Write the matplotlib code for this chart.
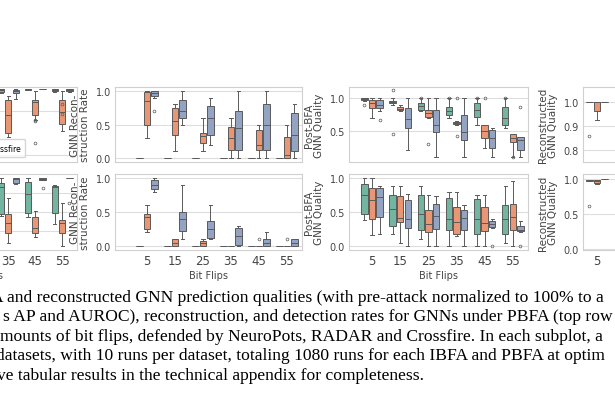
import colorsys
import matplotlib
matplotlib.use("Agg")
import matplotlib.pyplot as plt
from matplotlib.colors import to_rgb
from matplotlib.patches import Patch

W, H = 615, 410
bit_flips = ["5", "15", "25", "35", "45", "55"]
methods = ["NeuroPots", "RADAR", "Crossfire"]
base_colors = ["#66c2a5", "#fc8d62", "#8da0cb"]

# box stats per method: (whislo, q1, med, q3, whishi, [fliers]); None = not drawn
# left panel, only 35/45/55 are inside the crop
p1_top = {
    "NeuroPots": [None, None, None, (0.98, 0.985, 0.995, 1.0, 1.0, []), (0.995, 0.997, 1.0, 1.0, 1.0, []), (0.985, 0.99, 0.995, 1.0, 1.0, [])],
    "RADAR": [None, None, None, (0.78, 0.80, 0.88, 0.95, 0.97, []), (0.86, 0.88, 0.94, 0.95, 0.99, [0.855, 0.86, 0.755]), (0.81, 0.84, 0.895, 0.95, 0.99, [0.886, 0.93])],
    "Crossfire": [None, None, None, (0.955, 0.98, 0.99, 0.995, 1.0, []), (1.0, 1.0, 1.0, 1.0, 1.0, []), (0.985, 0.99, 0.995, 1.0, 1.0, [])],
}
p1_bot = {
    "NeuroPots": [None, None, None, (0.45, 0.47, 0.83, 0.88, 0.95, []), (0.44, 0.49, 0.74, 0.90, 0.95, []), (0.34, 0.49, 0.83, 0.84, 0.85, [])],
    "RADAR": [None, None, None, (0.09, 0.22, 0.36, 0.47, 0.69, []), (0.17, 0.22, 0.29, 0.44, 0.51, []), (0.05, 0.23, 0.36, 0.39, 0.62, [])],
    "Crossfire": [None, None, None, (0.87, 0.88, 0.93, 0.95, 0.95, []), (0.92, 0.92, 0.94, 0.95, 0.95, [0.82]), (0.95, 0.95, 0.95, 0.95, 0.95, [0.62])],
}
p2_top = {
    "NeuroPots": [(0, 0, 0, 0, 0, [])] * 6,
    "RADAR": [(0.3, 0.5, 0.85, 0.98, 1.0, []), (0.1, 0.35, 0.55, 0.75, 0.8, []), (0.1, 0.22, 0.33, 0.38, 0.6, []),
              (0, 0.12, 0.3, 0.47, 0.6, []), (0, 0.12, 0.2, 0.42, 0.5, []), (0, 0, 0.05, 0.32, 0.5, [])],
    "Crossfire": [(0.9, 0.93, 0.97, 1.0, 1.0, [0.7]), (0.5, 0.6, 0.7, 0.87, 1.0, []), (0.2, 0.35, 0.6, 0.77, 0.9, []),
                  (0, 0.12, 0.45, 0.7, 1.0, []), (0, 0.12, 0.5, 0.8, 1.0, []), (0, 0.1, 0.35, 0.67, 0.8, [])],
}
p2_bot = {
    "NeuroPots": [(0, 0, 0, 0, 0, [])] * 6,
    "RADAR": [(0.2, 0.25, 0.42, 0.47, 0.6, []), (0, 0, 0.05, 0.1, 0.1, []), (0, 0, 0.05, 0.08, 0.1, []),
              (0, 0, 0, 0, 0, []), (0, 0, 0, 0, 0, [0.1]), (0, 0, 0, 0, 0, [0.1])],
    "Crossfire": [(0.8, 0.84, 0.9, 0.97, 1.0, []), (0.1, 0.22, 0.4, 0.5, 0.9, []), (0.1, 0.12, 0.25, 0.37, 0.6, []),
                  (0, 0.02, 0.15, 0.27, 0.3, []), (0, 0, 0.05, 0.1, 0.2, []), (0, 0, 0.05, 0.1, 0.1, [])],
}
p3_top = {
    "NeuroPots": [(0.95, 0.97, 0.99, 1.0, 1.0, [0.9]), (0.9, 0.92, 0.94, 0.96, 1.0, [1.12, 0.45]), (0.8, 0.82, 0.88, 0.93, 1.0, [1.0]),
                  (0.7, 0.75, 0.8, 0.87, 1.0, [1.0]), (0.6, 0.72, 0.82, 0.92, 1.0, [1.0]), (0.55, 0.6, 0.7, 0.87, 1.0, [1.0])],
    "RADAR": [(0.7, 0.85, 0.92, 0.98, 1.0, []), (0.8, 0.82, 0.84, 0.86, 0.9, []), (0.7, 0.72, 0.77, 0.82, 1.0, [0.3]),
              (0.6, 0.61, 0.63, 0.64, 0.65, [0.43, 1.0]), (0.25, 0.4, 0.5, 0.6, 0.6, [1.0]), (0.1, 0.34, 0.4, 0.45, 0.45, [0.1])],
    "Crossfire": [(0.8, 0.85, 0.9, 0.97, 1.0, [0.67]), (0.22, 0.55, 0.68, 0.85, 1.0, []), (0.1, 0.48, 0.6, 0.82, 1.0, []),
                  (0.1, 0.36, 0.48, 0.75, 1.0, []), (0.1, 0.24, 0.4, 0.52, 0.55, []), (0.1, 0.22, 0.36, 0.41, 0.41, [0.87])],
}
p3_bot = {
    "NeuroPots": [(0.38, 0.47, 0.75, 0.92, 1.0, []), (0.17, 0.3, 0.55, 0.75, 0.88, []), (0.1, 0.24, 0.47, 0.75, 0.88, []),
                  (0, 0.23, 0.4, 0.7, 0.8, []), (0, 0.18, 0.4, 0.69, 0.75, []), (0.05, 0.18, 0.4, 0.6, 0.88, [])],
    "RADAR": [(0.16, 0.4, 0.67, 0.85, 1.0, []), (0.05, 0.35, 0.41, 0.74, 0.88, []), (0, 0.2, 0.33, 0.53, 0.75, []),
              (0.15, 0.17, 0.35, 0.58, 0.8, []), (0, 0.22, 0.34, 0.58, 0.75, []), (0, 0.24, 0.42, 0.62, 0.95, [])],
    "Crossfire": [(0.18, 0.42, 0.72, 0.85, 0.88, []), (0, 0.26, 0.39, 0.68, 0.77, []), (0, 0.25, 0.44, 0.62, 0.73, []),
                  (0, 0.24, 0.41, 0.53, 0.6, []), (0.27, 0.28, 0.33, 0.37, 0.4, [0.0]), (0.2, 0.22, 0.24, 0.3, 0.37, [0.0])],
}
p4_top = {
    "NeuroPots": [(1.0, 1.0, 1.0, 1.0, 1.0, [0.857])] + [None] * 5,
    "RADAR": [(0.924, 0.963, 1.0, 1.0, 1.0, [])] + [None] * 5,
    "Crossfire": [(1.0, 1.0, 1.0, 1.0, 1.0, [])] + [None] * 5,
}
p4_bot = {
    "NeuroPots": [(0.97, 0.97, 0.98, 0.99, 0.99, [0.62])] + [None] * 5,
    "RADAR": [(0.93, 0.94, 0.97, 0.99, 0.99, [])] + [None] * 5,
    "Crossfire": [(1.0, 1.0, 1.0, 1.0, 1.0, [])] + [None] * 5,
}

caption = [
    "A and reconstructed GNN prediction qualities (with pre-attack normalized to 100% to a",
    "s AP and AUROC), reconstruction, and detection rates for GNNs under PBFA (top row",
    "mounts of bit flips, defended by NeuroPots, RADAR and Crossfire. In each subplot, a",
    "datasets, with 10 runs per dataset, totaling 1080 runs for each IBFA and PBFA at optim",
    "ve tabular results in the technical appendix for completeness.",
]


def desat(c, f=0.75):
    h, l, s = colorsys.rgb_to_hls(*to_rgb(c))
    return colorsys.hls_to_rgb(h, l, s * f)


colors = [desat(c) for c in base_colors]

plt.rcParams["font.family"] = "DejaVu Sans"
fig = plt.figure(figsize=(W / 100, H / 100), dpi=100)
txt = "#444444"


def add_ax(x0, x1, y0, y1):
    return fig.add_axes([x0 / W, 1 - y1 / H, (x1 - x0) / W, (y1 - y0) / H])


def draw(ax, data, ylim, yticks, xlim, bottom, ylabel=None):
    offs = [-0.27, 0.0, 0.27]
    for k, m in enumerate(methods):
        stats, pos = [], []
        for i, s in enumerate(data[m]):
            if s is None:
                continue
            lo, q1, med, q3, hi, fl = s
            stats.append(dict(whislo=lo, q1=q1, med=med, q3=q3, whishi=hi, fliers=fl))
            pos.append(i + offs[k])
        ax.bxp(stats, positions=pos, widths=0.23, patch_artist=True, manage_ticks=False,
               boxprops=dict(facecolor=colors[k], edgecolor="#5a5a5a", linewidth=0.7),
               medianprops=dict(color="#5a5a5a", linewidth=0.7),
               whiskerprops=dict(color="#5a5a5a", linewidth=0.7),
               capprops=dict(color="#5a5a5a", linewidth=0.7),
               flierprops=dict(marker="o", markersize=2, markerfacecolor="none",
                               markeredgecolor="#5a5a5a", markeredgewidth=0.5))
    ax.set_xlim(*xlim)
    ax.set_ylim(*ylim)
    ax.set_yticks(yticks)
    ax.set_xticks(range(len(bit_flips)))
    ax.grid(axis="y", color="#dddddd", linewidth=0.8, zorder=0)
    ax.set_axisbelow(True)
    for sp in ax.spines.values():
        sp.set_color("#d0d0d0")
        sp.set_linewidth(0.8)
    ax.tick_params(length=0, labelsize=7, colors=txt, pad=3)
    if bottom:
        ax.set_xticklabels(bit_flips, fontsize=8.5)
        ax.set_xlabel("Bit Flips", fontsize=7, color=txt, labelpad=2)
    else:
        ax.set_xticklabels([])
    if ylabel:
        ax.set_ylabel(ylabel, fontsize=7.5, color=txt, labelpad=4, linespacing=0.95)


a = add_ax(-110, 77, 88, 163)
draw(a, p1_top, (0.668, 1.009), [0.7, 0.9], (-1.4, 5.55), False)
a.legend([Patch(facecolor=c, edgecolor="#5a5a5a", linewidth=0.6) for c in colors], methods,
         loc="lower right", ncol=3, fontsize=5.5, frameon=True, handlelength=1.2,
         columnspacing=0.8, borderpad=0.6, edgecolor="#cccccc", bbox_to_anchor=(0.745, 0.01))
a = add_ax(-110, 77, 175, 251)
draw(a, p1_bot, (0.0, 1.0), [0.25, 0.5, 0.75], (-1.4, 5.55), True)

a = add_ax(115, 302, 88, 163)
draw(a, p2_top, (-0.06, 1.06), [0.0, 0.5, 1.0], (-1.14, 5.54), False, "GNN Recon-\nstruction Rate")
a = add_ax(115, 302, 175, 251)
draw(a, p2_bot, (-0.06, 1.06), [0.0, 0.5, 1.0], (-1.14, 5.54), True, "GNN Recon-\nstruction Rate")

a = add_ax(349, 528, 88, 163)
draw(a, p3_top, (0.03, 1.17), [0.5, 1.0], (-0.82, 5.54), False, "Post-BFA\nGNN Quality")
a = add_ax(349, 528, 175, 251)
draw(a, p3_bot, (-0.06, 1.06), [0.0, 0.5, 1.0], (-0.82, 5.54), True, "Post-BFA\nGNN Quality")

a = add_ax(583, 770, 88, 163)
draw(a, p4_top, (0.749, 1.061), [0.8, 0.9, 1.0], (-0.5, 6.2), False, "Reconstructed\nGNN Quality")
a = add_ax(583, 770, 175, 251)
draw(a, p4_bot, (-0.01, 1.07), [0.0, 0.5, 1.0], (-0.5, 6.2), True, "Reconstructed\nGNN Quality")

line_y = [298, 317, 337, 356, 376]
line_x = [-9, 3, 0, -4, -3]
for s, x, y in zip(caption, line_x, line_y):
    fig.text(x / W, 1 - y / H, s, fontsize=12.6, family="Liberation Serif",
             color="black", ha="left", va="center")

fig.savefig("out.png", dpi=100)
